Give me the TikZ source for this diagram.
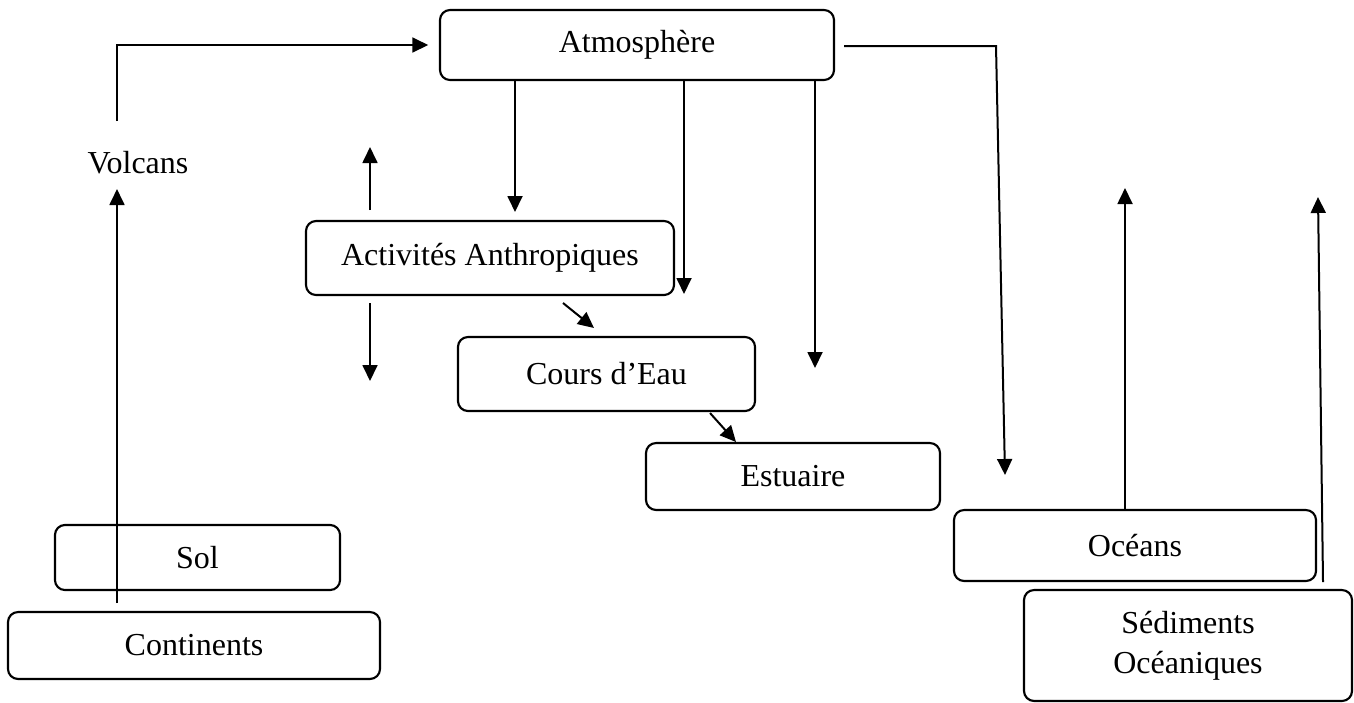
\documentclass[tikz,border=0pt]{standalone}
\usepackage{fontspec}
\setmainfont{Liberation Serif}
\usetikzlibrary{arrows.meta}
\tikzset{>={Triangle[length=6pt,width=5.6pt]}}
\tikzset{boite/.style={draw,rounded corners=3.75pt,line width=0.8pt,align=center,inner sep=0pt},
  fleche/.style={->,line width=0.75pt}}

\begin{document}
\begin{tikzpicture}[x=0.375pt,y=-0.375pt,font=\fontsize{12}{15}\selectfont]
\useasboundingbox (0,0) rectangle (1354,702);
    % boites
    \node[boite,minimum width=147.75pt,minimum height=26.25pt] (atm) at (637,45) {\raisebox{-1pt}{Atmosphère}};
    \node[boite,minimum width=138pt,minimum height=27.75pt] (act) at (490,258) {Activités Anthropiques};
    \node[boite,minimum width=111.4pt,minimum height=27.75pt] (cours) at (606.5,374) {Cours d’Eau};
    \node[boite,minimum width=110.25pt,minimum height=25.1pt] (estu) at (793,476.5) {Estuaire};
    \node[boite,minimum width=135.75pt,minimum height=26.6pt] (oce) at (1135,545.5) {Océans};
    \node[boite,minimum width=123pt,minimum height=41.6pt] (sed) at (1188,645.5) {\raisebox{-2pt}{Sédiments}\\\raisebox{-2pt}{Océaniques}};
    \node[boite,minimum width=106.9pt,minimum height=24.4pt] (sol) at (197.5,557.5) {Sol};
    \node[boite,minimum width=139.5pt,minimum height=25.1pt] (cont) at (194,645.5) {Continents};
    \node (volc) at (138,163) {Volcans};
    % extremites libres
    \coordinate (v0) at (117,603);
    \coordinate (v1) at (117,189);
    \coordinate (v2) at (117,121);
    \coordinate (a1) at (515,212);
    \coordinate (a2) at (684,294);
    \coordinate (a3) at (815,368);
    \coordinate (a4) at (844,46);
    \coordinate (a5) at (996,46);
    \coordinate (a6) at (1005,475);
    \coordinate (h0) at (370,210);
    \coordinate (h1) at (370,147);
    \coordinate (b0) at (370,303);
    \coordinate (b1) at (370,381);
    \coordinate (d0) at (563,303);
    \coordinate (d1) at (594,328);
    \coordinate (e0) at (710,413);
    \coordinate (e1) at (736,442);
    \coordinate (o1) at (1125,188);
    \coordinate (s0) at (1323,582);
    \coordinate (s1) at (1318,197);
    % fleches
    \draw[fleche] (v0) -- (v1);
    \draw[fleche,shorten >=4pt] (v2) |- (atm.west);
    \draw[fleche] (atm.south -| a1) -- (a1);
    \draw[fleche] (atm.south -| a2) -- (a2);
    \draw[fleche] (atm.south -| a3) -- (a3);
    \draw[fleche] (a4) -- (a5) -- (a6);
    \draw[fleche] (h0) -- (h1);
    \draw[fleche] (b0) -- (b1);
    \draw[fleche] (d0) -- (d1);
    \draw[fleche] (e0) -- (e1);
    \draw[fleche] (oce.north -| o1) -- (o1);
    \draw[fleche] (s0) -- (s1);
\end{tikzpicture}
\end{document}
